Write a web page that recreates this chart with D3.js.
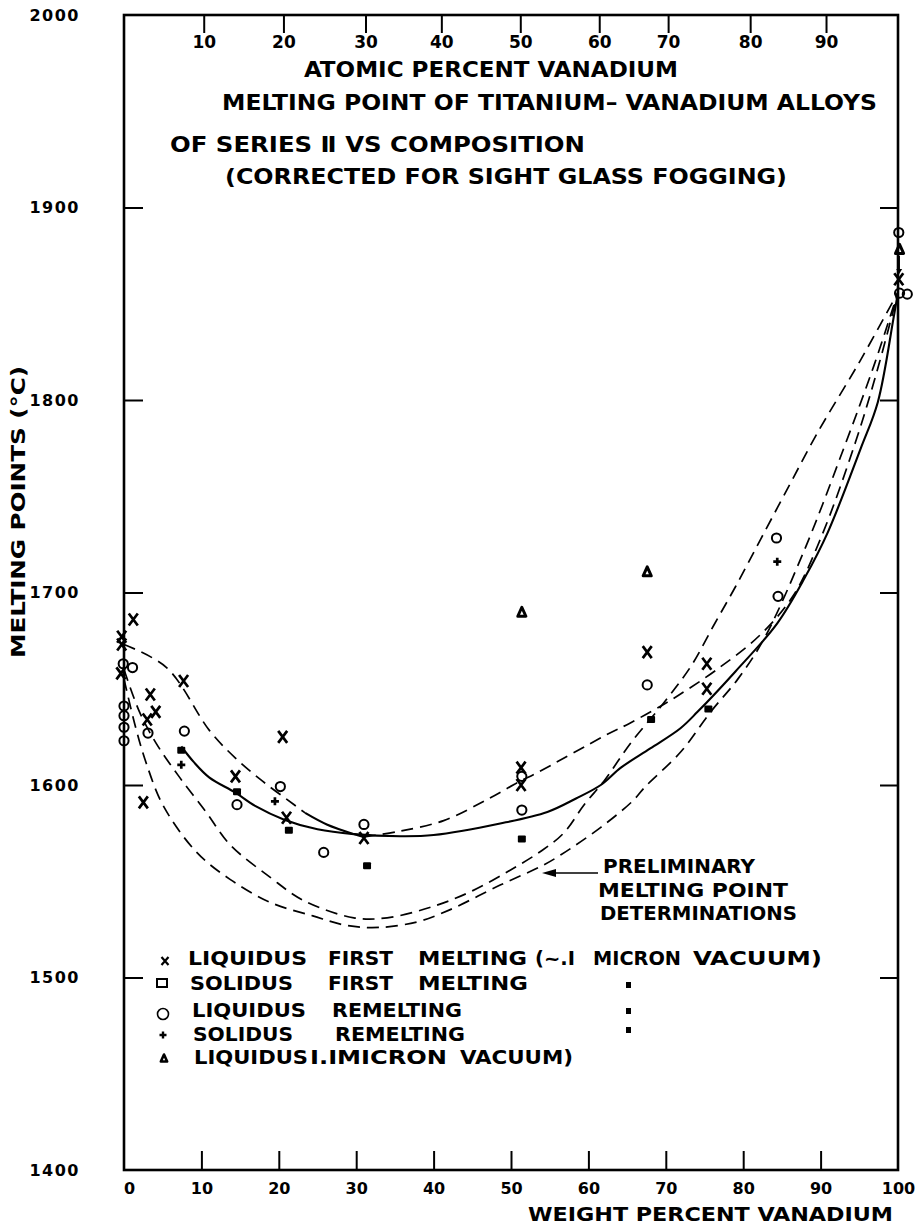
<!DOCTYPE html>
<html><head><meta charset="utf-8">
<script src="https://cdn.jsdelivr.net/npm/d3@7"></script>
<style>body{margin:0;background:#fff}</style>
</head><body>
<svg id="c" width="917" height="1231"></svg>
<script>
// ---------------- DATA ----------------
const wtTicks = [0,10,20,30,40,50,60,70,80,90,100];
const tempTicks = [1400,1500,1600,1700,1800,1900,2000];
const atomicLabels = [10,20,30,40,50,60,70,80,90];
const atomicWt = [10.3,20.6,31.2,41.0,51.2,61.4,70.3,80.9,90.7];

// [weight % V, melting point °C]
const liqFirst = [[-0.3,1677],[-0.3,1673],[-0.4,1658],[1.2,1686],[3.0,1634],[3.4,1647],[4.1,1638],[2.5,1591],[7.7,1654],[14.4,1604.5],[20.5,1625],[21.0,1583],[31.0,1572.5],[51.3,1609],[51.3,1600],[67.6,1669],[75.3,1663],[75.3,1650],[100.1,1862.7]];
const solFirst = [[7.4,1618],[14.6,1596.5],[21.3,1576.5],[31.4,1558],[51.4,1572],[68.1,1634],[75.5,1639.5]];
const liqRemelt = [[-0.1,1663],[1.1,1661],[0,1641],[0,1636],[0,1630],[0,1623],[3.1,1627],[7.8,1628],[14.6,1589.8],[20.2,1599.2],[25.8,1565],[31.0,1579.5],[51.4,1604.5],[51.4,1587],[67.6,1652],[84.3,1728.3],[84.5,1698],[100.1,1887],[100.2,1855.5],[101.2,1855]];
const solRemelt = [[7.4,1610.5],[19.5,1591.5],[84.4,1716]];
const liq1Micron = [[51.4,1690],[67.6,1711],[100.2,1878.5]];

// curves
const solidCurve = [[7.4,1620],[9,1612],[11,1604],[14.4,1596],[17,1589],[20.7,1582],[25,1577],[29.7,1574.5],[35.7,1573.4],[40,1574],[48.6,1580],[54.7,1586],[58.4,1593],[61.6,1600],[64.2,1609],[68,1619],[71.9,1629.5],[74.1,1638],[79,1659],[84.4,1684],[88,1708],[90.9,1731],[95.2,1775],[97.4,1799],[99.4,1842],[100,1856]];
const upperLeftDashed = [[0,1673],[5.5,1661],[11.1,1628],[14.4,1614],[17.9,1602],[21.9,1590],[23.4,1585.5]];
const upperLeftSolid = [[23.4,1585.5],[26.2,1579.5],[29.7,1574.5],[31,1573]];
const innerBowl = [[0,1660],[2,1638],[4.1,1622],[7,1605],[10.6,1586],[13.7,1569],[18.9,1552],[23.2,1540],[29.7,1531],[34,1531],[40,1537],[45,1545],[50,1556],[54,1566],[56.8,1575],[59.5,1590],[62,1602],[65.5,1622],[69.8,1643],[73.3,1662],[76.2,1683],[79,1703],[82.3,1728],[86,1756],[89.6,1783],[95.2,1821],[100,1856]];
const outerBowl = [[0,1655],[1.5,1630],[2.9,1611],[5.1,1589],[9.4,1565],[13.7,1551],[18.9,1539],[24.4,1532],[28.8,1527],[33,1526],[38,1529],[42,1535],[48.6,1548],[54,1558],[56.4,1563.6],[61.6,1578],[65.8,1592],[67.2,1598.5],[72,1617.5],[75.8,1638],[79.3,1655],[82.7,1676],[87.9,1722],[93,1775],[96.9,1818],[100,1856]];
const upperRightDashed = [[31,1573],[35.6,1576],[41.3,1581.5],[46.9,1592.4],[51.2,1602],[53.2,1606],[62.3,1626],[65.3,1632],[69.6,1641.6],[71.8,1647],[76.6,1660],[82.2,1678],[86.5,1698.6],[90,1728],[94.5,1778],[97.5,1818],[100,1856]];

const legendItems = ["LIQUIDUS FIRST MELTING (~.I MICRON VACUUM)","SOLIDUS FIRST MELTING","LIQUIDUS REMELTING","SOLIDUS REMELTING","LIQUIDUS I.IMICRON VACUUM)"];

// ---------------- DRAW ----------------
const FONT = '"DejaVu Sans Condensed","Liberation Sans Narrow","DejaVu Sans",sans-serif';
const FONT_NUM = '"DejaVu Sans","Liberation Sans",sans-serif';
const svg = d3.select('#c');
svg.append('rect').attr('width',917).attr('height',1231).attr('fill','#fff');

const x = d3.scaleLinear().domain([0,100]).range([124,898]);
const y = d3.scaleLinear().domain([1400,2000]).range([1170,15]);

function styleAxis(g, size){
  g.select('.domain').remove();
  g.selectAll('.tick line').attr('stroke','#000').attr('stroke-width',2);
  g.selectAll('.tick text').attr('font-family',FONT_NUM).attr('font-weight','bold')
    .attr('font-size',size).attr('fill','#000');
}

// bottom axis (weight percent)
const gB = svg.append('g').attr('transform',`translate(0,${y(1400)})`)
  .call(d3.axisBottom(x).tickValues(wtTicks).tickSizeInner(-19).tickSizeOuter(0).tickPadding(13).tickFormat(d=>String(d)));
styleAxis(gB,16);
gB.selectAll('.tick').filter(d=>d===0||d===100).select('line').remove();
gB.selectAll('.tick').filter(d=>d===0).select('text').attr('dx',5);

// left axis (temperature)
const gL = svg.append('g').attr('transform',`translate(${x(0)},0)`)
  .call(d3.axisLeft(y).tickValues(tempTicks).tickSizeInner(-19).tickSizeOuter(0).tickPadding(44).tickFormat(d=>String(d)));
styleAxis(gL,16);
gL.selectAll('.tick').filter(d=>d===1400||d===2000).select('line').remove();
gL.selectAll('.tick text').attr('letter-spacing',1.5);

// right axis
const gR = svg.append('g').attr('transform',`translate(${x(100)},0)`)
  .call(d3.axisRight(y).tickValues([1500,1600,1700,1800,1900]).tickSizeInner(-18).tickSizeOuter(0).tickFormat(''));
styleAxis(gR,12);

// top axis (atomic percent)
const gT = svg.append('g').attr('transform',`translate(0,${y(2000)})`)
  .call(d3.axisBottom(x).tickValues(atomicWt).tickSizeInner(18).tickSizeOuter(0).tickPadding(3).tickFormat((d,i)=>String(atomicLabels[i])));
styleAxis(gT,17);

// frame
svg.append('rect').attr('x',x(0)).attr('y',y(2000)).attr('width',x(100)-x(0)).attr('height',y(1400)-y(2000))
  .attr('fill','none').attr('stroke','#000').attr('stroke-width',2.6);

// text helper
function txt(str,x1,x2,yc,size,rot){
  const t = svg.append('text').text(str).attr('font-family',FONT).attr('font-weight','bold')
    .attr('font-size',size).attr('fill','#000')
    .attr('textLength',x2-x1).attr('lengthAdjust','spacingAndGlyphs');
  if(rot){
    t.attr('transform',`translate(${rot[0]},${rot[1]}) rotate(-90)`).attr('x',-(x2-x1)/2).attr('y',0.36*size);
  } else {
    t.attr('x',x1).attr('y',yc+0.36*size);
  }
  return t;
}

// titles
txt('ATOMIC PERCENT VANADIUM',304,678,69,21);
txt('MELTING POINT OF TITANIUM– VANADIUM ALLOYS',222,877,102,21);
txt('OF SERIES Ⅱ VS COMPOSITION',170,585,144,21);
txt('(CORRECTED FOR SIGHT GLASS FOGGING)',225,787,176,21);
txt('WEIGHT PERCENT VANADIUM',528,893,1214,20);
txt('MELTING POINTS (°C)',0,292,0,20,[18,512]);

// curves
const line = d3.line().x(d=>x(d[0])).y(d=>y(d[1])).curve(d3.curveCatmullRom.alpha(0.5));
const dash = '12,7';
[innerBowl,outerBowl,upperRightDashed,upperLeftDashed].forEach(c=>{
  svg.append('path').attr('d',line(c)).attr('fill','none').attr('stroke','#000')
    .attr('stroke-width',1.7).attr('stroke-dasharray',dash);
});
[solidCurve,upperLeftSolid].forEach(c=>{
  svg.append('path').attr('d',line(c)).attr('fill','none').attr('stroke','#000').attr('stroke-width',2.1);
});

// marker drawing
function drawX(g,cx,cy,w,h,sw){
  g.append('path').attr('d',`M${cx-w/2},${cy-h/2}L${cx+w/2},${cy+h/2}M${cx+w/2},${cy-h/2}L${cx-w/2},${cy+h/2}`)
   .attr('stroke','#000').attr('stroke-width',sw).attr('fill','none');
}
function drawPlus(g,cx,cy,s,sw){
  g.append('path').attr('d',`M${cx-s/2},${cy}L${cx+s/2},${cy}M${cx},${cy-s/2}L${cx},${cy+s/2}`)
   .attr('stroke','#000').attr('stroke-width',sw);
}
function drawCircle(g,cx,cy,r,sw){
  g.append('circle').attr('cx',cx).attr('cy',cy).attr('r',r).attr('fill','none')
   .attr('stroke','#000').attr('stroke-width',sw);
}
function drawTri(g,cx,cy,s,sw){
  g.append('path').attr('d',`M${cx},${cy-s/2}L${cx+s*0.45},${cy+s/2}L${cx-s*0.45},${cy+s/2}Z`)
   .attr('fill','none').attr('stroke','#000').attr('stroke-width',sw).attr('stroke-linejoin','round');
}
const gm = svg.append('g');
liqFirst.forEach(d=>drawX(gm,x(d[0]),y(d[1]),9,12,2.7));
solFirst.forEach(d=>gm.append('rect').attr('x',x(d[0])-4).attr('y',y(d[1])-3.5).attr('width',8).attr('height',7).attr('rx',1).attr('fill','#000'));
liqRemelt.forEach(d=>drawCircle(gm,x(d[0]),y(d[1]),4.6,2));
solRemelt.forEach(d=>drawPlus(gm,x(d[0]),y(d[1]),8,2.7));
liq1Micron.forEach(d=>drawTri(gm,x(d[0]),y(d[1]),9,3));

// small arrow from triangle to X at 100 %
const ax = x(100.15);
svg.append('line').attr('x1',ax).attr('x2',ax).attr('y1',y(1875)).attr('y2',y(1866.5)).attr('stroke','#000').attr('stroke-width',1.6);
svg.append('path').attr('d',`M${ax-3},${y(1868)}L${ax+3},${y(1868)}L${ax},${y(1865.5)}Z`).attr('fill','#000');

// preliminary annotation
txt('PRELIMINARY',603,755,866,19);
txt('MELTING POINT',598,788,890,19);
txt('DETERMINATIONS',600,797,913,19);
svg.append('line').attr('x1',598).attr('x2',552).attr('y1',873).attr('y2',873).attr('stroke','#000').attr('stroke-width',1.6);
svg.append('path').attr('d','M542,873L556,869L556,877Z').attr('fill','#000');

// legend
const rows = [
  {y:958, words:[['LIQUIDUS',188,307],['FIRST',328,393],['MELTING',418,527],['(~.I',535,575],['MICRON',593,681],['VACUUM)',693,822]]},
  {y:983, words:[['SOLIDUS',190,293],['FIRST',328,393],['MELTING',418,528]]},
  {y:1010,words:[['LIQUIDUS',192,306],['REMELTING',332,462]]},
  {y:1034,words:[['SOLIDUS',193,293],['REMELTING',335,465]]},
  {y:1057,words:[['LIQUIDUS',194,308],['I.IMICRON',310,447],['VACUUM)',460,573]]}
];
rows.forEach((r,i)=>{
  svg.append('title').text(legendItems[i]);
  r.words.forEach(w=>txt(w[0],w[1],w[2],r.y,19.5));
});
const gl = svg.append('g');
drawX(gl,165,961,7,8,2.2);
gl.append('rect').attr('x',157).attr('y',979).attr('width',10).attr('height',8).attr('fill','none').attr('stroke','#000').attr('stroke-width',2);
drawCircle(gl,163,1014,5.5,1.6);
drawPlus(gl,163,1035,7,2.4);
drawTri(gl,164,1058,7,2.6);
// ditto marks
[985,1011,1030].forEach(v=>gl.append('rect').attr('x',626).attr('y',v-3).attr('width',5).attr('height',6).attr('fill','#000'));
</script>
</body></html>
